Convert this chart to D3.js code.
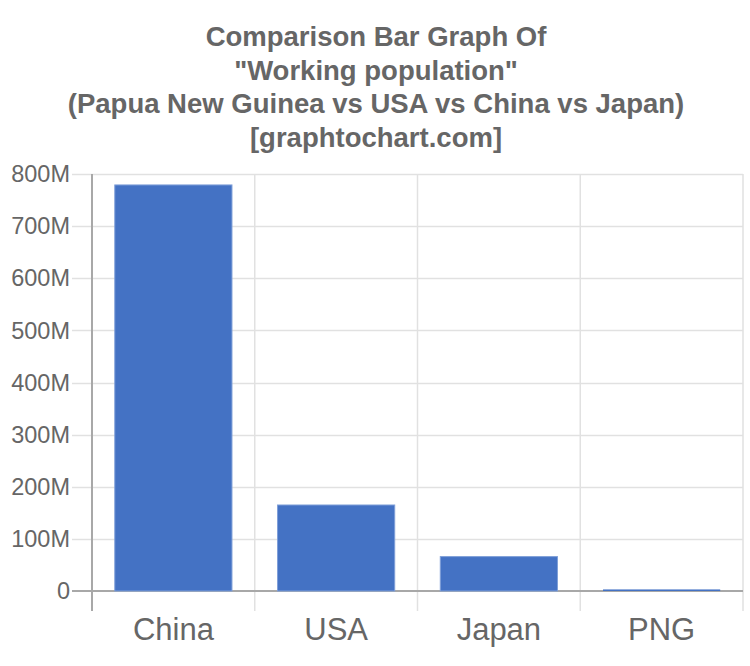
<!DOCTYPE html>
<html>
<head>
<meta charset="utf-8">
<script src="https://cdn.jsdelivr.net/npm/d3@7"></script>
<style>
  body { margin: 0; background: #fff; }
  text { font-family: "Liberation Sans", Arial, sans-serif; fill: #666; }
</style>
</head>
<body>
<div id="chart"></div>
<script>
// data
var countries = ["China", "USA", "Japan", "PNG"];
var workers = [779e6, 165e6, 66e6, 3e6];
var yTicks = [0, 100e6, 200e6, 300e6, 400e6, 500e6, 600e6, 700e6, 800e6];
var titleLines = [
  "Comparison Bar Graph Of",
  "\"Working population\"",
  "(Papua New Guinea vs USA vs China vs Japan)",
  "[graphtochart.com]"
];

var svgWidth = 750, svgHeight = 666;
var margin = { top: 174, right: 7, bottom: 75, left: 92 };
var width = svgWidth - margin.left - margin.right;
var height = svgHeight - margin.top - margin.bottom;

var svg = d3.select("#chart").append("svg")
  .attr("width", svgWidth)
  .attr("height", svgHeight);

// title
svg.append("g").selectAll("text")
  .data(titleLines).enter()
  .append("text")
  .attr("x", svgWidth / 2 + 1)
  .attr("y", (d, i) => 46 + i * 33.5)
  .attr("text-anchor", "middle")
  .attr("font-size", "27.5px")
  .attr("font-weight", "bold")
  .text(d => d);

var chartGroup = svg.append("g")
  .attr("transform", `translate(${margin.left}, ${margin.top})`);

var xScale = d3.scaleBand()
  .domain(countries)
  .range([0, width]);

var yScale = d3.scaleLinear()
  .domain([0, 800e6])
  .range([height, 0]);

// horizontal grid + tick marks
chartGroup.append("g").selectAll("line")
  .data(yTicks.slice(1)).enter()
  .append("line")
  .attr("x1", -20).attr("x2", width)
  .attr("y1", d => Math.round(yScale(d)) + 0.5)
  .attr("y2", d => Math.round(yScale(d)) + 0.5)
  .attr("stroke", "#e1e1e1")
  .attr("stroke-width", 1.5);

// vertical grid (band edges)
var edges = countries.map(c => xScale(c)).concat([width]);
chartGroup.append("g").selectAll("line")
  .data(edges.slice(1)).enter()
  .append("line")
  .attr("x1", d => d).attr("x2", d => d)
  .attr("y1", 0).attr("y2", height + 20)
  .attr("stroke", "#e1e1e1")
  .attr("stroke-width", 1.5);

// axes lines
chartGroup.append("line")
  .attr("x1", -20).attr("x2", width)
  .attr("y1", height).attr("y2", height)
  .attr("stroke", "#a8a8a8").attr("stroke-width", 2);
chartGroup.append("line")
  .attr("x1", 0).attr("x2", 0)
  .attr("y1", 0).attr("y2", height + 20)
  .attr("stroke", "#a8a8a8").attr("stroke-width", 2);

// bars
chartGroup.append("g").selectAll("rect")
  .data(workers).enter()
  .append("rect")
  .attr("x", (d, i) => xScale(countries[i]) + xScale.bandwidth() * 0.14)
  .attr("width", xScale.bandwidth() * 0.72)
  .attr("y", d => yScale(d))
  .attr("height", d => height - yScale(d))
  .attr("fill", "#4472c4")
  .attr("stroke", "#7f9fd8")
  .attr("stroke-width", d => (height - yScale(d)) > 4 ? 1 : 0);

// y tick labels
var fmt = d => d === 0 ? "0" : (d / 1e6) + "M";
chartGroup.append("g").selectAll("text")
  .data(yTicks).enter()
  .append("text")
  .attr("x", -22)
  .attr("y", d => yScale(d))
  .attr("dy", "0.35em")
  .attr("text-anchor", "end")
  .attr("font-size", "23.5px")
  .text(fmt);

// x labels
chartGroup.append("g").selectAll("text")
  .data(countries).enter()
  .append("text")
  .attr("x", d => xScale(d) + xScale.bandwidth() / 2)
  .attr("y", height + 38)
  .attr("dy", "0.35em")
  .attr("text-anchor", "middle")
  .attr("font-size", "31px")
  .text(d => d);
</script>
</body>
</html>
